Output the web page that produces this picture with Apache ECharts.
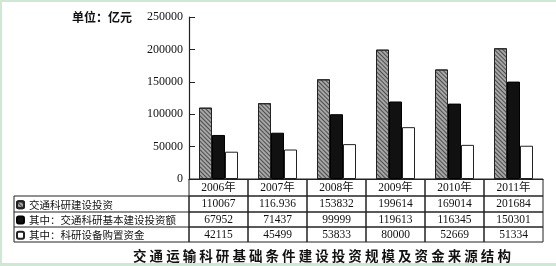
<!DOCTYPE html>
<html>
<head>
<meta charset="utf-8">
<script src="https://cdn.jsdelivr.net/npm/echarts@6/dist/echarts.min.js"></script>
<style>
html,body{margin:0;padding:0;background:#fff;}
#c{width:556px;height:266px;}
</style>
</head>
<body>
<div id="c"></div>
<script>
// ---- data ----
const years = ['2006年', '2007年', '2008年', '2009年', '2010年', '2011年'];
const seriesNames = ['交通科研建设投资', '其中：交通科研基本建设投资额', '其中：科研设备购置资金'];
const totalInvest = [110067, 116936, 153832, 199614, 169014, 201684];
const totalInvestPrinted = ['110067', '116.936', '153832', '199614', '169014', '201684'];
const basicConstruction = [67952, 71437, 99999, 119613, 116345, 150301];
const equipmentPurchase = [42115, 45499, 53833, 80000, 52669, 51334];
const yTicks = [0, 50000, 100000, 150000, 200000, 250000];
const unitText = '单位：亿元';
const titleText = '交通运输科研基础条件建设投资规模及资金来源结构';

const chart = echarts.init(document.getElementById('c'), null, {renderer: 'canvas'});

const serif = "'Liberation Serif','Noto Sans CJK SC',serif";
const cjk = "'Noto Sans CJK SC',sans-serif";
const cellW = 59;
const box = (h) => ({width: cellW, height: h, lineHeight: h, align: 'center', verticalAlign: 'middle',
  borderColor: '#222', borderWidth: 1, fontFamily: serif, fontSize: 11.5, color: '#111'});

const option = {
  backgroundColor: '#cfe8d4',
  animation: false,
  grid: {left: 189, right: 13, top: 17, bottom: 87, containLabel: false},
  legend: {
    orient: 'vertical', left: 16, top: 197, padding: 0, itemWidth: 7, itemHeight: 7, itemGap: 0,
    textStyle: {fontFamily: cjk, fontSize: 10.5, color: '#111', lineHeight: 15.3, height: 15.3},
    data: seriesNames, selectedMode: false
  },
  xAxis: {
    type: 'category', data: years,
    axisLine: {show: true, lineStyle: {color: '#222', width: 1}},
    axisTick: {show: false},
    axisLabel: {
      interval: 0, margin: 0, hideOverlap: false,
      formatter: function (v, i) {
        return '{h|' + v + '}\n{a|' + totalInvestPrinted[i] + '}\n{b|' + basicConstruction[i] + '}\n{c|' + equipmentPurchase[i] + '}';
      },
      rich: {h: box(17), a: box(16), b: box(15), c: box(15)}
    }
  },
  yAxis: {
    type: 'value', min: 0, max: 250000, interval: 50000,
    axisLine: {show: true, lineStyle: {color: '#222', width: 1.2}},
    axisTick: {show: true, inside: true, length: 6, lineStyle: {color: '#222'}},
    splitLine: {show: false},
    axisLabel: {margin: 6, fontFamily: serif, fontSize: 12, color: '#111',
      formatter: v => yTicks.indexOf(v) >= 0 ? String(v) : ''}
  },
  series: [
    {name: seriesNames[0], type: 'bar', data: totalInvest, barWidth: 13, barGap: '0%',
      itemStyle: {color: '#a6a6a6', borderColor: '#222', borderWidth: 1,
        decal: {symbol: 'rect', symbolSize: 1, dashArrayX: [[2, 0]], dashArrayY: [1, 2],
          rotation: Math.PI / 4, color: 'rgba(60,60,60,0.85)'}}},
    {name: seriesNames[1], type: 'bar', data: basicConstruction, barWidth: 13, barGap: '0%',
      itemStyle: {color: '#111', borderColor: '#000', borderWidth: 1}},
    {name: seriesNames[2], type: 'bar', data: equipmentPurchase, barWidth: 13, barGap: '0%',
      itemStyle: {color: '#fff', borderColor: '#222', borderWidth: 1}}
  ],
  graphic: [
    {type: 'rect', z: -10, silent: true, shape: {x: 2, y: 2, width: 554, height: 261}, style: {fill: '#fff'}},
    {type: 'rect', silent: true, shape: {x: 14, y: 196, width: 175, height: 46},
      style: {fill: 'none', stroke: '#222', lineWidth: 1}},
    {type: 'line', silent: true, shape: {x1: 14, y1: 212, x2: 189, y2: 212}, style: {stroke: '#222', lineWidth: 1}},
    {type: 'line', silent: true, shape: {x1: 14, y1: 227, x2: 189, y2: 227}, style: {stroke: '#222', lineWidth: 1}},
    {type: 'text', silent: true, left: 72, top: 11,
      style: {text: unitText, fontFamily: cjk, fontSize: 12, fontWeight: 'bold', fill: '#111'}},
    {type: 'text', silent: true, left: 133, top: 249,
      style: {text: titleText.split('').join(' '), fontFamily: cjk, fontSize: 13.5, fontWeight: 'bold', fill: '#111'}}
  ]
};
chart.setOption(option);
</script>
</body>
</html>
